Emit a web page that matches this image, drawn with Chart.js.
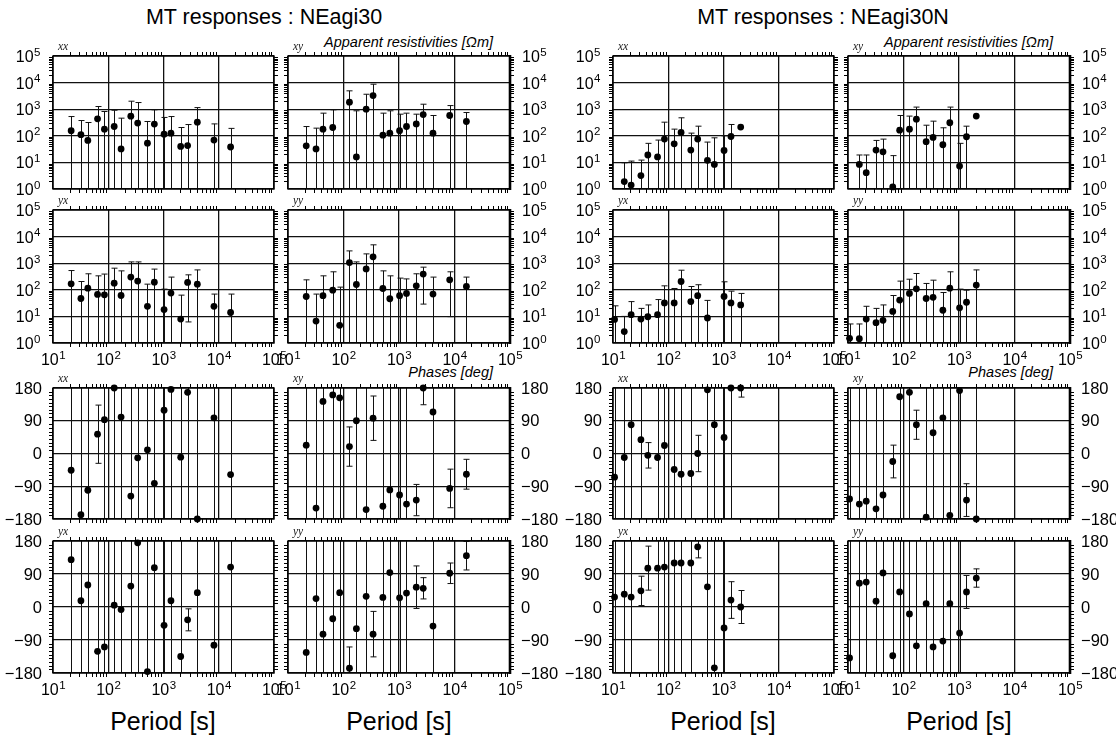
<!DOCTYPE html>
<html>
<head>
<meta charset="utf-8">
<title>MT responses</title>
<script src="https://cdn.jsdelivr.net/npm/chart.js@4.4.1/dist/chart.umd.min.js"></script>
<style>
  body { margin: 0; background: #fff; font-family: "Liberation Sans", Arial, sans-serif; }
  #page { position: relative; width: 1116px; height: 738px; overflow: hidden; background: #fff; }
  #page canvas { position: absolute; }
  .txt { position: absolute; white-space: nowrap; line-height: 1; color: #000; }
  .it { font-style: italic; font-size: 14.5px; }
  .period { font-size: 25px; width: 160px; text-align: center; top: 709px; }
</style>
</head>
<body>
<div id="page">
  <div class="txt" style="left:114px;width:300px;text-align:center;top:7px;font-size:21.5px">MT responses : NEagi30</div>
  <div class="txt" style="left:673px;width:300px;text-align:center;top:7px;font-size:21.5px">MT responses : NEagi30N</div>
  <div class="txt it" style="right:623px;top:35px">Apparent resistivities [Ωm]</div>
  <div class="txt it" style="right:63px;top:35px">Apparent resistivities [Ωm]</div>
  <div class="txt it" style="right:623px;top:365px">Phases [deg]</div>
  <div class="txt it" style="right:63px;top:365px">Phases [deg]</div>
  <div class="txt period" style="left:83px">Period [s]</div>
  <div class="txt period" style="left:319px">Period [s]</div>
  <div class="txt period" style="left:643px">Period [s]</div>
  <div class="txt period" style="left:879px">Period [s]</div>
</div>
<script>
// ── Periods [s] ───────────────────────────────────────────────────────────────
const P30    = [21.3, 32, 42.7, 64, 85.3, 128, 170.7, 256, 341, 512, 683, 1024, 1365, 2048, 2731, 4096, 8192, 16384];
const P30_XY = [21.3, 32, 42.7, 64, 128, 170.7, 256, 341, 512, 683, 1024, 1365, 2048, 2731, 4096, 8192, 16384];
const PN     = [10.67, 16, 21.3, 32, 42.7, 64, 85.3, 128, 170.7, 256, 341, 512, 683, 1024, 1365, 2048];
const PN_X   = [16, 21.3, 32, 42.7, 64, 85.3, 128, 170.7, 256, 341, 512, 683, 1024, 1365, 2048];
const PN_YX  = [10.67, 16, 21.3, 32, 42.7, 64, 85.3, 128, 170.7, 256, 341, 512, 1024, 1365, 2048];

// ── NEagi30 : apparent resistivity [Ωm] (value, upper bar, lower bar; null low = below axis)
const RHO30_XX    = [155, 110, 67, 435, 178, 224, 32, 545, 300, 53, 275, 115, 126, 40, 43, 325, 69, 38];
const RHO30_XX_HI = [530, 375, 316, 1260, 820, 915, 460, 2000, 1780, 345, 950, 490, 530, 205, 265, 1150, 280, 190];
const RHO30_XY    = [42, 32, 178, 205, 1830, 16, 1000, 3250, 106, 126, 155, 224, 280, 630, 126, 580, 345];
const RHO30_XY_HI = [223, 194, 710, 950, 4900, 870, 3650, 8700, 710, 870, 650, 710, 650, 1540, 580, 1370, 750];
const RHO30_YX    = [168, 47, 115, 67, 65, 178, 61, 300, 212, 24, 194, 18, 75, 7.9, 189, 163, 24, 14];
const RHO30_YX_HI = [530, 205, 400, 335, 390, 650, 515, 1120, 1120, 163, 600, 106, 300, 63, 365, 560, 69, 69];
const RHO30_YX_LO = [null, null, null, null, null, null, null, null, null, null, null, null, null, null, 6.2, null, null, null];
const RHO30_YY    = [56, 6.7, 60, 97, 4.6, 1060, 158, 610, 1730, 112, 46, 60, 73, 141, 390, 69, 237, 134];
const RHO30_YY_HI = [237, 69, 335, 475, 126, 2900, 1120, 2240, 4900, 515, 335, 275, 257, 400, 710, 300, 475, 300];
const RHO30_YY_LO = [null, null, null, null, null, null, null, null, null, null, null, null, null, null, 29, null, 9.8, null];

// ── NEagi30 : phase [deg] (value, half error; 360 = spans whole panel)
const PHI30_XX   = [-46, -168, -101, 53, 93, 180, 100, -117, -12, 10, -82, 119, 176, -10, 168, -180, 98, -58];
const PHI30_XX_E = [360, 360, 360, 80, 360, 360, 360, 360, 360, 360, 360, 360, 360, 360, 360, 360, 360, 360];
const PHI30_XY   = [23, -150, 143, 161, 153, 19, 90, -154, 97, -145, -100, -114, -139, -128, 180, 114, -96, -57];
const PHI30_XY_E = [360, 360, 360, 360, 360, 54, 360, 360, 61, 360, 360, 360, 360, 43, 46, 360, 53, 41];
const PHI30_YX   = [129, 17, 60, -121, -109, 5, -7, 57, 175, -176, 107, -50, 17, -135, -35, 39, -104, 109];
const PHI30_YX_E = [360, 360, 360, 360, 360, 360, 360, 360, 360, 360, 360, 360, 360, 360, 30, 360, 360, 360];
const PHI30_YY   = [-124, 23, -74, -32, 39, -167, -59, 29, -74, 26, 94, 25, 38, 54, 51, -52, 92, 140];
const PHI30_YY_E = [360, 360, 360, 360, 360, 58, 360, 360, 62, 360, 360, 360, 360, 58, 29, 360, 28, 39];

// ── NEagi30N : apparent resistivity [Ωm]
const RHON_XX    = [1.9, 1.4, 3.2, 19, 16, 75, 50, 134, 29, 75, 12, 8.4, 28, 94, 212];
const RHON_XX_HI = [9.7, 11.2, 12.2, 52, 69, 325, 178, 475, 126, 230, 58, 84, 100, 266, null];
const RHON_XY    = [8.4, 4.1, 29, 25, 1.2, 163, 178, 420, 60, 87, 46, 310, 7.3, 92, 550];
const RHON_XY_HI = [19, 19, 67, 75, 18, 580, 550, 1200, 250, 355, 200, 1200, 52, 230, null];
const RHON_YX    = [7.7, 2.7, 11.6, 7.9, 9.7, 11.6, 32, 32, 205, 36, 60, 8.7, 56, 32, 27];
const RHON_YX_HI = [25, 10, 36, 20, 27, 43, 141, 112, 545, 133, 155, 40, 200, 89, 73];
const RHON_YY    = [1.5, 1.45, 7.9, 5.8, 7.1, 15.4, 41, 73, 109, 47, 52, 17, 115, 21, 34, 150];
const RHON_YY_HI = [5.2, 5.2, 24, 20, 27, 61, 212, 250, 410, 173, 230, 79, 475, 106, 97, 560];

// ── NEagi30N : phase [deg]
const PHIN_XX   = [-65, -11, 79, 38, -5, -11, 22, -44, -57, -55, 0, 175, 79, 44, 180, 180];
const PHIN_XX_E = [360, 360, 360, 360, 35, 360, 360, 360, 360, 360, 50, 360, 360, 360, 360, 25];
const PHIN_XY   = [-125, -139, -131, -152, -114, -22, 156, 168, 79, -175, 57, 98, -170, 173, -128, -180];
const PHIN_XY_E = [360, 360, 360, 360, 360, 45, 360, 360, 40, 360, 360, 360, 360, 360, 45, 360];
const PHIN_YX   = [27, 35, 27, 44, 106, 106, 109, 120, 120, 120, 164, 55, -166, -57, 19, 0];
const PHIN_YX_E = [360, 360, 360, 40, 60, 360, 360, 360, 360, 360, 30, 360, 360, 360, 50, 45];
const PHIN_YY   = [-139, 65, 68, 16, 93, -133, 41, -19, -106, 9, -109, -93, 9, -71, 41, 79];
const PHIN_YY_E = [360, 360, 360, 360, 360, 360, 360, 360, 360, 360, 360, 360, 360, 360, 45, 25];

// ── Axis ticks ────────────────────────────────────────────────────────────────
const X_DEC   = [10, 100, 1e3, 1e4, 1e5];
const RHO_DEC = [1, 10, 100, 1e3, 1e4, 1e5];
const PHI_TK  = [-180, -90, 0, 90, 180];

// ── Layout ────────────────────────────────────────────────────────────────────
const FONT = '"Liberation Sans", Arial, sans-serif';
const INK  = '#000';
const GRID = '#111';
const ROWS = [[56, 189], [210, 343], [388, 519], [541, 673]];
const COLS = [[53, 274], [288, 510], [613, 834], [848, 1070]];
const MX = 60, MT = 24, MB = 34;

const panels = [
  { col: 0, row: 0, tag: 'xx', T: P30,    v: RHO30_XX, hi: RHO30_XX_HI },
  { col: 1, row: 0, tag: 'xy', T: P30_XY, v: RHO30_XY, hi: RHO30_XY_HI },
  { col: 0, row: 1, tag: 'yx', T: P30,    v: RHO30_YX, hi: RHO30_YX_HI, lo: RHO30_YX_LO },
  { col: 1, row: 1, tag: 'yy', T: P30,    v: RHO30_YY, hi: RHO30_YY_HI, lo: RHO30_YY_LO },
  { col: 0, row: 2, tag: 'xx', T: P30,    v: PHI30_XX, e: PHI30_XX_E },
  { col: 1, row: 2, tag: 'xy', T: P30,    v: PHI30_XY, e: PHI30_XY_E },
  { col: 0, row: 3, tag: 'yx', T: P30,    v: PHI30_YX, e: PHI30_YX_E },
  { col: 1, row: 3, tag: 'yy', T: P30,    v: PHI30_YY, e: PHI30_YY_E },

  { col: 2, row: 0, tag: 'xx', T: PN_X,   v: RHON_XX, hi: RHON_XX_HI },
  { col: 3, row: 0, tag: 'xy', T: PN_X,   v: RHON_XY, hi: RHON_XY_HI },
  { col: 2, row: 1, tag: 'yx', T: PN_YX,  v: RHON_YX, hi: RHON_YX_HI },
  { col: 3, row: 1, tag: 'yy', T: PN,     v: RHON_YY, hi: RHON_YY_HI },
  { col: 2, row: 2, tag: 'xx', T: PN,     v: PHIN_XX, e: PHIN_XX_E },
  { col: 3, row: 2, tag: 'xy', T: PN,     v: PHIN_XY, e: PHIN_XY_E },
  { col: 2, row: 3, tag: 'yx', T: PN,     v: PHIN_YX, e: PHIN_YX_E },
  { col: 3, row: 3, tag: 'yy', T: PN,     v: PHIN_YY, e: PHIN_YY_E },
];

// ── Helpers ───────────────────────────────────────────────────────────────────
function pow10Label(ctx, v, x, y, align) {
  const exp = String(Math.round(Math.log10(v)));
  ctx.font = '16px ' + FONT;
  const wb = ctx.measureText('10').width;
  ctx.font = '11.5px ' + FONT;
  const we = ctx.measureText(exp).width;
  const x0 = align === 'right' ? x - wb - we : align === 'center' ? x - (wb + we) / 2 : x;
  ctx.textAlign = 'left';
  ctx.textBaseline = 'alphabetic';
  ctx.font = '16px ' + FONT;
  ctx.fillText('10', x0, y + 6);
  ctx.font = '11.5px ' + FONT;
  ctx.fillText(exp, x0 + wb + 0.5, y - 0.5);
}

function minorVals(scale) {
  const out = [];
  if (scale.type === 'logarithmic') {
    const e0 = Math.round(Math.log10(scale.min)), e1 = Math.round(Math.log10(scale.max));
    for (let e = e0; e < e1; e++) for (let k = 2; k <= 9; k++) out.push(k * 10 ** e);
  } else {
    for (let d = scale.min + 10; d < scale.max; d += 10) if (d % 90) out.push(d);
  }
  return out;
}

// error bars under the dots
const errBars = {
  id: 'errBars',
  beforeDatasetsDraw(chart) {
    const { ctx, chartArea: a, scales: { x, y } } = chart;
    const ds = chart.data.datasets[0];
    ctx.save();
    ctx.beginPath();
    ctx.rect(a.left - 5, a.top, a.right - a.left + 10, a.bottom - a.top);
    ctx.clip();
    ctx.strokeStyle = '#111';
    ctx.lineWidth = 1;
    ds.data.forEach((p, i) => {
      const hi = ds.errHi[i], lo = ds.errLo[i];
      if (hi == null) return;
      const px = Math.round(x.getPixelForValue(p.x)) + 0.5;
      const yh = y.getPixelForValue(Math.min(hi, y.max));
      const yl = y.getPixelForValue(Math.max(lo, y.min));
      ctx.beginPath();
      ctx.moveTo(px, yh); ctx.lineTo(px, yl);
      if (hi < y.max) { ctx.moveTo(px - 3, yh); ctx.lineTo(px + 3, yh); }
      if (lo > y.min) { ctx.moveTo(px - 3, yl); ctx.lineTo(px + 3, yl); }
      ctx.stroke();
    });
    ctx.restore();
  },
};

// frame, outward minor ticks, tick labels, component tag
const decor = {
  id: 'decor',
  afterDraw(chart, args, o) {
    const { ctx, chartArea: a, scales: { x, y } } = chart;
    ctx.save();
    ctx.strokeStyle = INK;
    ctx.lineWidth = 1;
    ctx.beginPath();
    minorVals(x).forEach(v => {
      const px = Math.round(x.getPixelForValue(v)) + 0.5;
      ctx.moveTo(px, a.top); ctx.lineTo(px, a.top - 4);
      ctx.moveTo(px, a.bottom); ctx.lineTo(px, a.bottom + 4);
    });
    minorVals(y).forEach(v => {
      const py = Math.round(y.getPixelForValue(v)) + 0.5;
      ctx.moveTo(a.left, py); ctx.lineTo(a.left - 4, py);
      ctx.moveTo(a.right, py); ctx.lineTo(a.right + 4, py);
    });
    ctx.stroke();

    ctx.lineWidth = 1.4;
    ctx.strokeRect(a.left, a.top, a.right - a.left, a.bottom - a.top);
    if (o.thick) {
      ctx.lineWidth = 2.6;
      ctx.beginPath(); ctx.moveTo(a.right, a.top - 1); ctx.lineTo(a.right, a.bottom + 1); ctx.stroke();
    }

    ctx.fillStyle = INK;
    const yt = o.rho ? RHO_DEC : PHI_TK;
    if (o.ySide) {
      yt.forEach(v => {
        const py = y.getPixelForValue(v);
        if (o.rho) {
          if (o.ySide === 'left') pow10Label(ctx, v, a.left - 13, py, 'right');
          else pow10Label(ctx, v, a.right + 12, py, 'left');
        } else {
          ctx.font = '16.5px ' + FONT;
          ctx.textBaseline = 'middle';
          const s = v < 0 ? '\u2212' + Math.abs(v) : String(v);
          if (o.ySide === 'left') { ctx.textAlign = 'right'; ctx.fillText(s, a.left - 11, py + 1); }
          else { ctx.textAlign = 'left'; ctx.fillText(s, a.right + 11, py + 1); }
        }
      });
    }
    if (o.xLabels) X_DEC.forEach(v => pow10Label(ctx, v, x.getPixelForValue(v), a.bottom + 16, 'center'));

    ctx.font = 'italic 11.5px "Liberation Serif", "Times New Roman", serif';
    ctx.fillStyle = '#222';
    ctx.textAlign = 'left';
    ctx.textBaseline = 'alphabetic';
    ctx.fillText(o.tag, a.left + 5, a.top - 6);
    ctx.restore();
  },
};

// ── Build one chart per panel ────────────────────────────────────────────────
const page = document.getElementById('page');

panels.forEach(p => {
  const [l, r] = COLS[p.col], [t, b] = ROWS[p.row];
  const rho = p.row < 2;
  const w = r - l + 2 * MX, h = b - t + MT + MB;
  const cv = document.createElement('canvas');
  cv.width = w; cv.height = h;
  cv.style.left = (l - MX) + 'px'; cv.style.top = (t - MT) + 'px';
  cv.style.width = w + 'px'; cv.style.height = h + 'px';
  page.appendChild(cv);

  const hi = rho ? p.hi : p.v.map((v, i) => v + p.e[i]);
  const lo = rho ? p.v.map((_, i) => (p.lo && p.lo[i] != null ? p.lo[i] : 0))
                 : p.v.map((v, i) => v - p.e[i]);

  const common = {
    display: true,
    ticks: { display: false },
    grid: { color: GRID, lineWidth: 1.3, drawTicks: false },
    border: { display: false },
  };

  new Chart(cv.getContext('2d'), {
    type: 'scatter',
    data: {
      datasets: [{
        data: p.T.map((T, i) => ({ x: T, y: p.v[i] })),
        errHi: hi, errLo: lo,
        pointRadius: 3.4, pointBackgroundColor: INK, pointBorderWidth: 0,
        showLine: false, clip: false,
      }],
    },
    options: {
      responsive: false, animation: false, events: [],
      layout: { padding: { left: MX, right: MX, top: MT, bottom: MB } },
      plugins: {
        legend: { display: false }, tooltip: { enabled: false },
        decor: {
          tag: p.tag, rho,
          ySide: p.col % 2 === 0 ? 'left' : 'right',
          xLabels: p.row === 1 || p.row === 3,
          thick: p.col % 2 === 1,
        },
      },
      scales: {
        x: {
          ...common, type: 'logarithmic', min: 10, max: 1e5, position: 'bottom',
          afterBuildTicks: s => { s.ticks = X_DEC.map(value => ({ value })); },
          afterFit: s => { s.height = 0; },
        },
        y: {
          ...common,
          ...(rho ? { type: 'logarithmic', min: 1, max: 1e5 } : { type: 'linear', min: -180, max: 180 }),
          afterBuildTicks: s => { s.ticks = (rho ? RHO_DEC : PHI_TK).map(value => ({ value })); },
          afterFit: s => { s.width = 0; },
        },
      },
    },
    plugins: [errBars, decor],
  });
});
</script>
</body>
</html>
